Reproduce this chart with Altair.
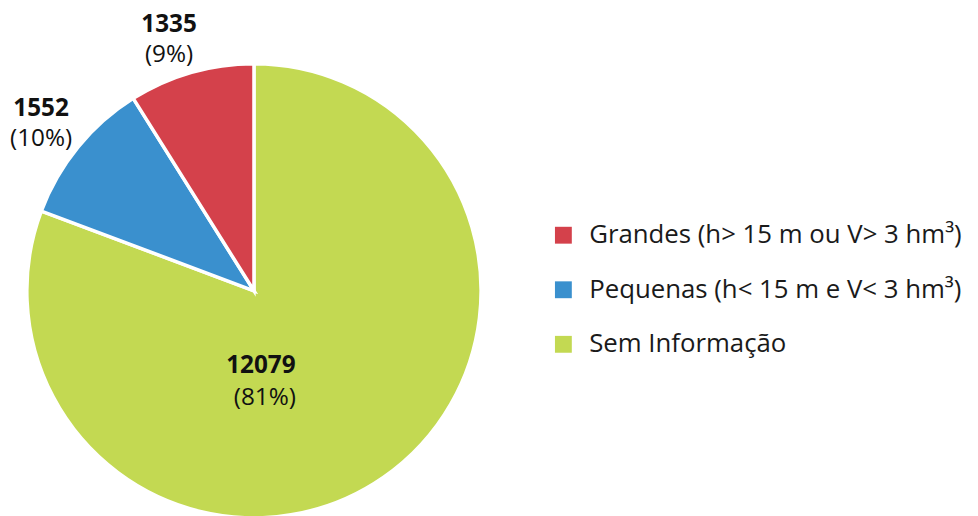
import altair as alt
import pandas as pd

categories = ["Sem Informação", "Pequenas (h< 15 m e V< 3 hm³)", "Grandes (h> 15 m ou V> 3 hm³)"]
values = [12079, 1552, 1335]
percents = ["(81%)", "(10%)", "(9%)"]
order = [0, 1, 2]
legend_order = ["Grandes (h> 15 m ou V> 3 hm³)", "Pequenas (h< 15 m e V< 3 hm³)", "Sem Informação"]
colors = ["#D4414B", "#3A90CE", "#C3D952"]

df = pd.DataFrame({"cat": categories, "value": values, "pct": percents, "ord": order})

FONT = "Open Sans"
CX, CY, R = 248, 283, 229

base = alt.Chart(df).encode(
    theta=alt.Theta("value:Q", stack=True),
    order=alt.Order("ord:Q"),
)

pie = base.mark_arc(outerRadius=R, stroke="white", strokeWidth=3.5, x=CX, y=CY).encode(
    color=alt.Color(
        "cat:N",
        scale=alt.Scale(domain=legend_order, range=colors),
        legend=alt.Legend(
            title=None,
            orient="none",
            legendX=547,
            legendY=214,
            symbolType="square",
            symbolSize=289,
            symbolStrokeWidth=0,
            labelFont=FONT,
            labelFontSize=26,
            labelColor="#1a1a1a",
            labelOffset=13,
            rowPadding=29,
            labelLimit=500,
            padding=0,
        ),
    )
)

outer_num = base.transform_calculate(
    lab="datum.ord == 0 ? '' : format(datum.value, 'd')"
).mark_text(radius=259, x=CX, y=CY, dx=-14, dy=-19, font=FONT, fontSize=24.5, fontWeight="bold", color="#111111").encode(
    text="lab:N"
)
outer_pct = base.transform_calculate(
    lab="datum.ord == 0 ? '' : datum.pct"
).mark_text(radius=259, x=CX, y=CY, dx=-14, dy=11, font=FONT, fontSize=24.5, color="#111111").encode(
    text="lab:N"
)
inner_num = base.transform_calculate(
    lab="datum.ord == 0 ? format(datum.value, 'd') : ''"
).mark_text(radius=72, x=CX, y=CY, dx=-34, dy=17, font=FONT, fontSize=24.5, fontWeight="bold", color="#111111").encode(
    text="lab:N"
)
inner_pct = base.transform_calculate(
    lab="datum.ord == 0 ? datum.pct : ''"
).mark_text(radius=72, x=CX, y=CY, dx=-30, dy=49, font=FONT, fontSize=24.5, color="#111111").encode(
    text="lab:N"
)

chart = alt.layer(pie, outer_num, outer_pct, inner_num, inner_pct).properties(
    width=970, height=508, autosize=alt.AutoSizeParams(type="none"), padding=0
).configure_view(stroke=None)

chart.save("out.html", embed_options={"renderer": "svg", "actions": False})
